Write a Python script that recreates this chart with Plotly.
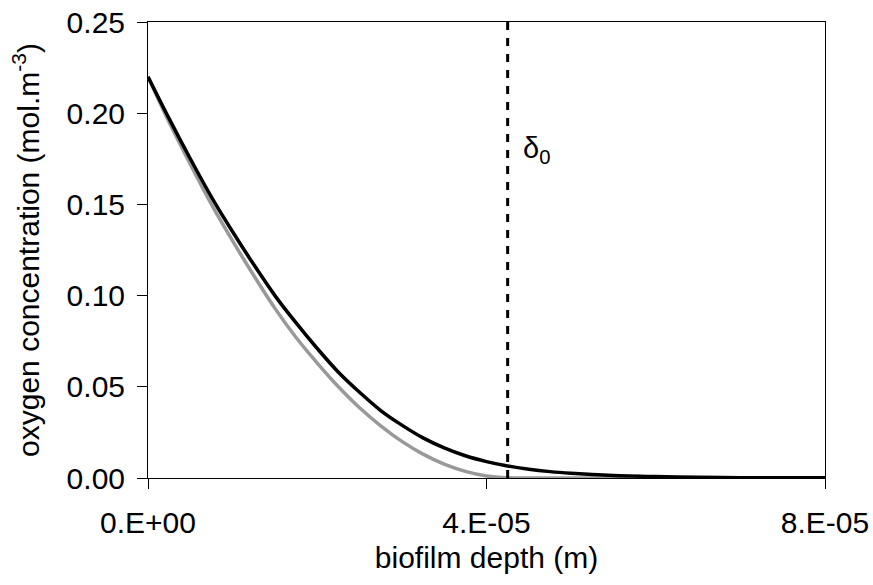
import plotly.graph_objects as go

# biofilm depth (micrometres, converted to m below)
depth_um = [0, 2.5, 5, 7.5, 10, 12.5, 15, 17.5, 20, 22.5, 25, 27.5, 30, 32.5,
            35, 37.5, 40, 42.5, 45, 47.5, 50, 55, 60, 65, 70, 80]
grey_conc = [0.220, 0.195, 0.172, 0.150, 0.130, 0.111, 0.093, 0.077, 0.063, 0.050,
             0.0385, 0.0286, 0.0201, 0.0131, 0.0076, 0.0036, 0.0011, 0.0001, 0.0,
             0.0, 0.0, 0.0, 0.0, 0.0, 0.0, 0.0]
black_conc = [0.220, 0.197, 0.175, 0.154, 0.135, 0.117, 0.100, 0.085, 0.071, 0.058,
              0.047, 0.037, 0.029, 0.022, 0.0165, 0.0122, 0.0090, 0.0066, 0.0048,
              0.0035, 0.0026, 0.0014, 0.0008, 0.0004, 0.0002, 0.0001]
delta0 = 4.25e-5
x_tickvals = [0, 4e-5, 8e-5]
x_ticktext = ["0.E+00", "4.E-05", "8.E-05"]
y_tickvals = [0.0, 0.05, 0.10, 0.15, 0.20, 0.25]

depth = [d * 1e-6 for d in depth_um]

fig = go.Figure()
fig.add_trace(go.Scatter(x=depth, y=grey_conc, mode="lines",
                         line=dict(color="#999999", width=3.5, shape="spline", smoothing=0.8),
                         showlegend=False))
fig.add_trace(go.Scatter(x=depth, y=black_conc, mode="lines",
                         line=dict(color="black", width=3.5, shape="spline", smoothing=0.8),
                         showlegend=False))

fig.add_shape(type="line", x0=delta0, x1=delta0, y0=0, y1=0.25, xref="x", yref="y",
              line=dict(color="black", width=3, dash="8px,8px"))
fig.add_annotation(x=delta0, y=0.18, xref="x", yref="y", text="δ<sub>0</sub>",
                   showarrow=False, xanchor="left", xshift=13,
                   font=dict(family="Liberation Sans, Arial, sans-serif", size=29, color="black"))

font = "Liberation Sans, Arial, sans-serif"
fig.update_layout(
    width=873, height=585,
    margin=dict(l=148, r=48, t=22, b=107),
    paper_bgcolor="white", plot_bgcolor="white",
    font=dict(family=font, size=30, color="black"),
    xaxis=dict(range=[0, 8e-5], tickvals=x_tickvals, ticktext=x_ticktext,
               ticks="outside", ticklen=10, tickwidth=1, tickcolor="black",
               ticklabelstandoff=8, automargin=False,
               showline=True, linecolor="black", linewidth=1, mirror=True,
               showgrid=False, zeroline=False,
               title=dict(text="biofilm depth (m)", standoff=8,
                          font=dict(size=30))),
    yaxis=dict(range=[0, 0.25], tickvals=y_tickvals, tickformat=".2f",
               ticks="outside", ticklen=10, tickwidth=1, tickcolor="black",
               ticklabelstandoff=6, automargin=False,
               showline=True, linecolor="black", linewidth=1, mirror=True,
               showgrid=False, zeroline=False,
               title=dict(text="oxygen concentration (mol.m<sup>-3</sup>)", standoff=18,
                          font=dict(size=30))),
)

fig.write_html("out.html")
